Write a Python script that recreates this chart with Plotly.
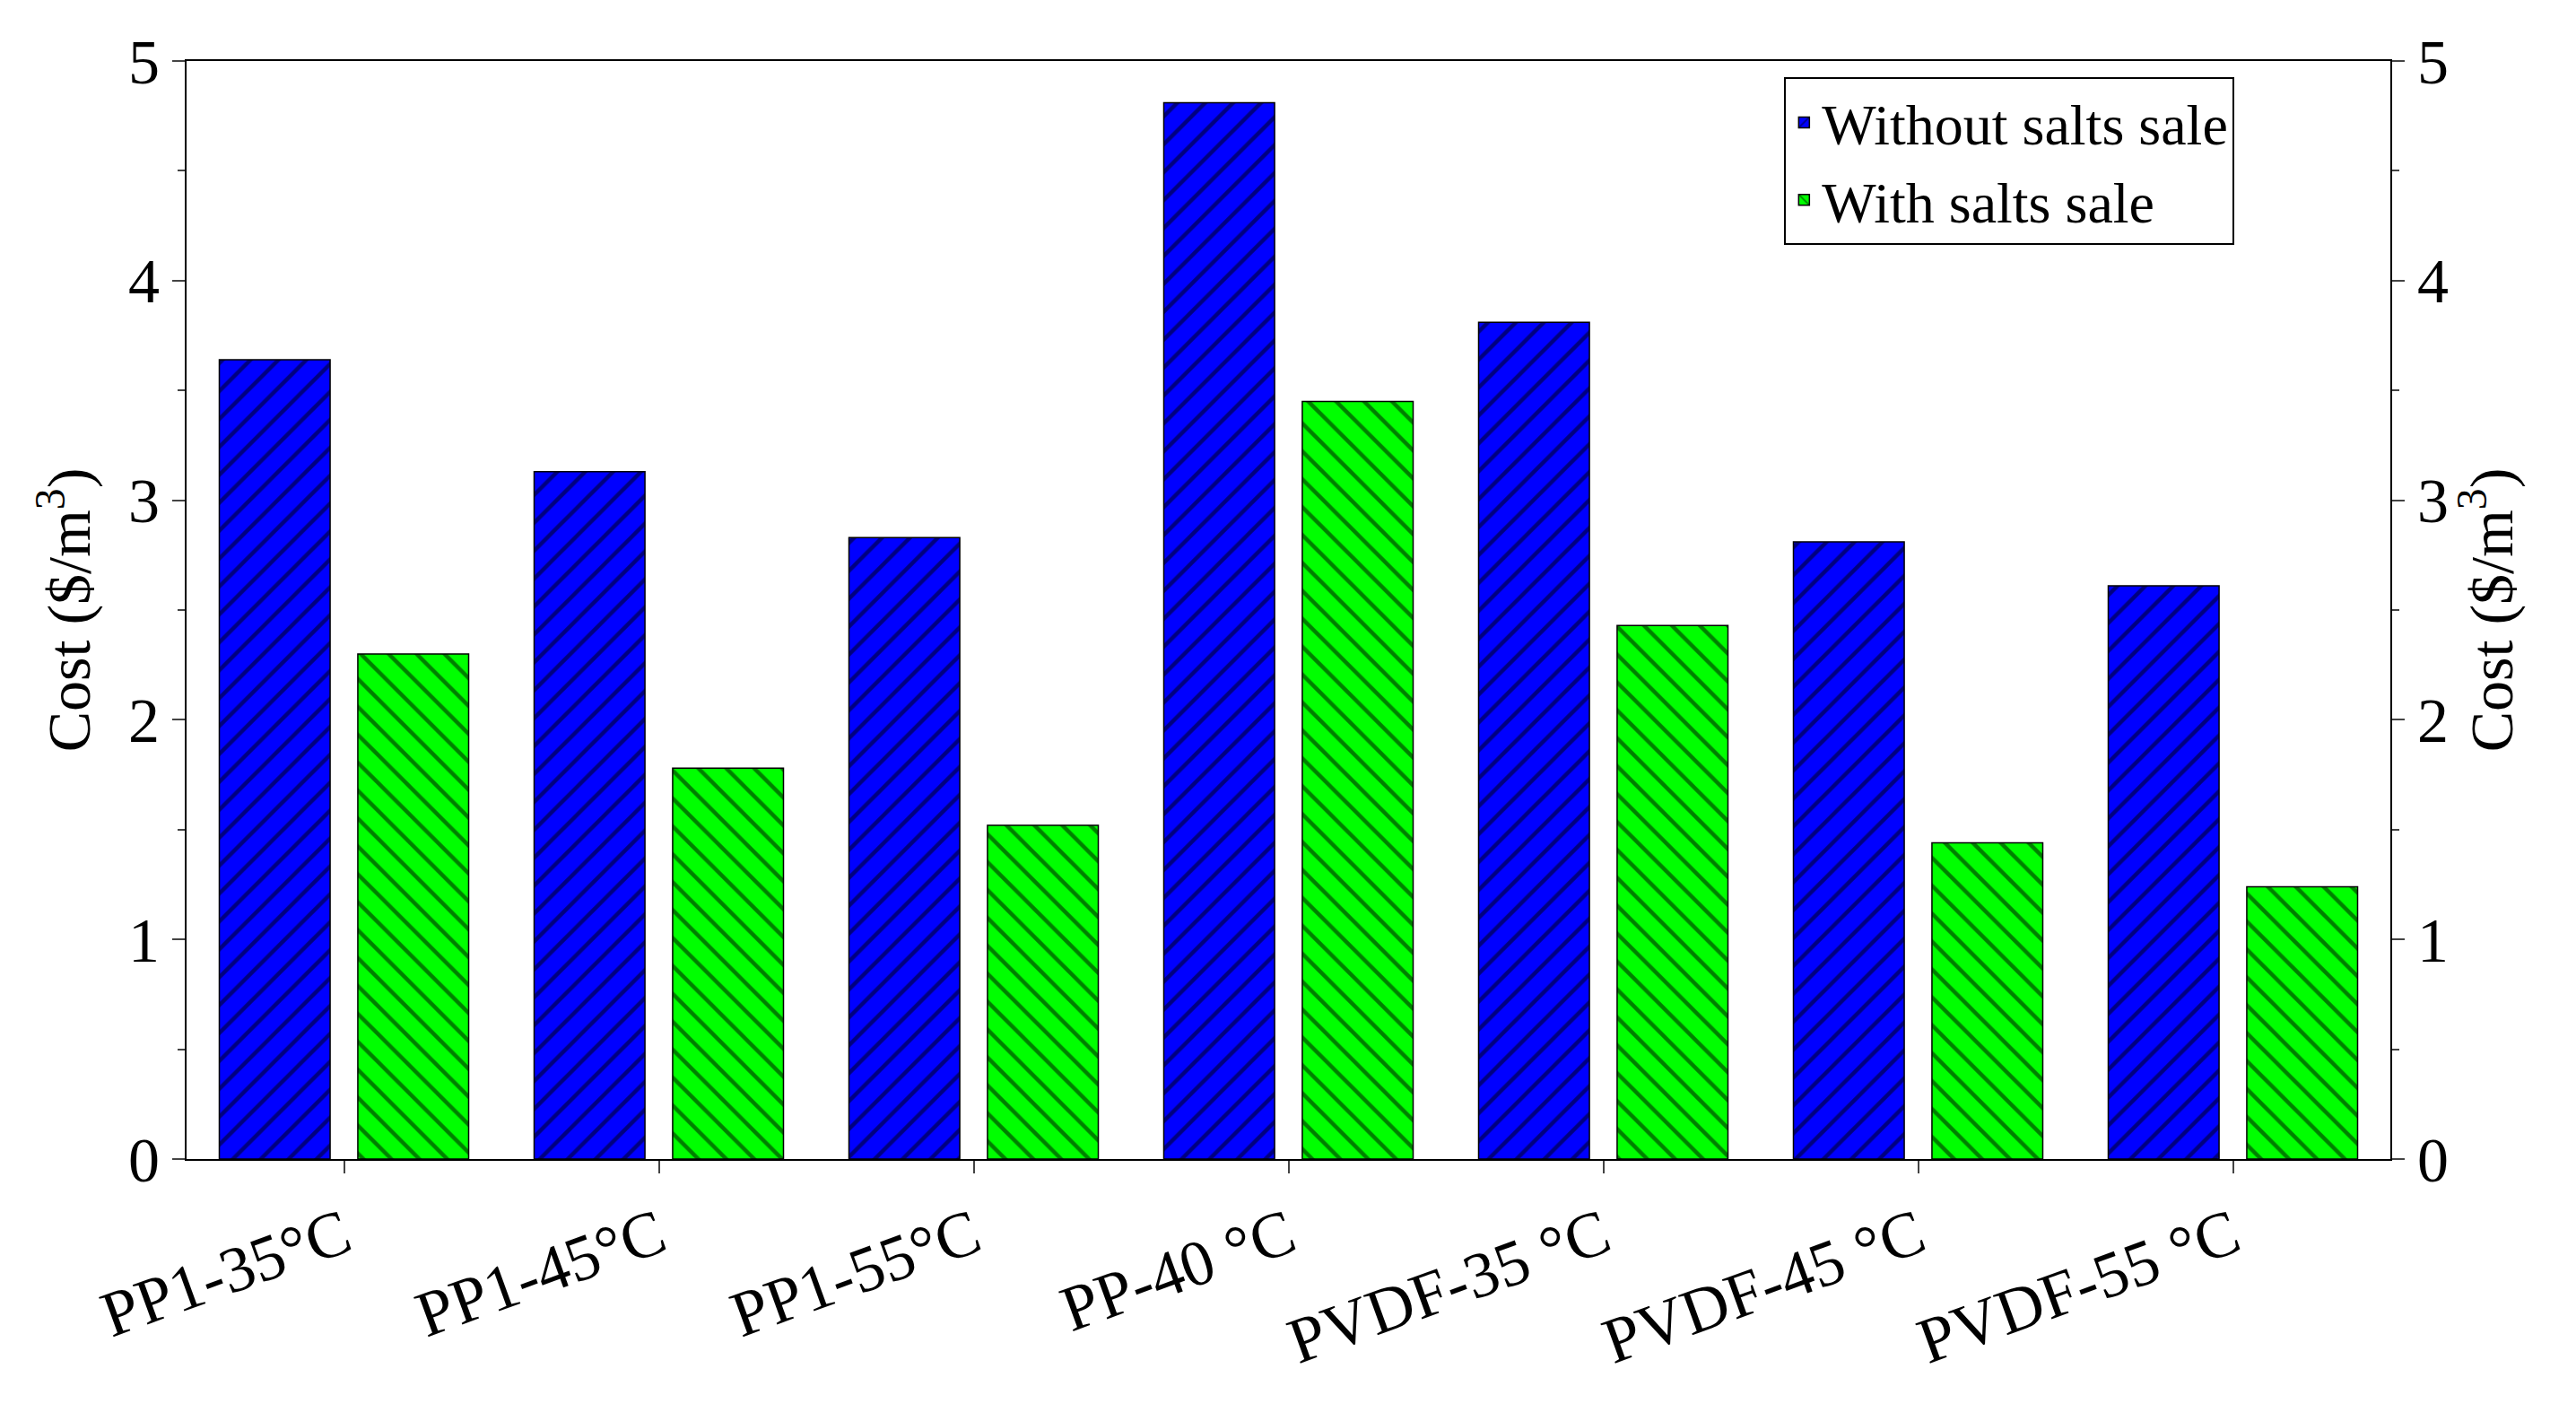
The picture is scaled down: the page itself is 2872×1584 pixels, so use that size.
import plotly.graph_objects as go

categories = ["PP1-35°C", "PP1-45°C", "PP1-55°C", "PP-40 °C", "PVDF-35 °C", "PVDF-45 °C", "PVDF-55 °C"]
without_sale = [3.64, 3.13, 2.83, 4.81, 3.81, 2.81, 2.61]
with_sale = [2.30, 1.78, 1.52, 3.45, 2.43, 1.44, 1.24]

font = "Liberation Serif"
fig = go.Figure()
fig.add_trace(go.Bar(x=categories, y=without_sale, name="Without salts sale",
                     marker=dict(color="#0000ff", line=dict(color="black", width=1.5),
                                 pattern=dict(shape="/", fgcolor="black", size=22, solidity=0.2))))
fig.add_trace(go.Bar(x=categories, y=with_sale, name="With salts sale",
                     marker=dict(color="#00ff00", line=dict(color="black", width=1.5),
                                 pattern=dict(shape="\\", fgcolor="black", size=22, solidity=0.2))))
fig.add_trace(go.Scatter(x=[categories[0]], y=[0], yaxis="y2", showlegend=False,
                         mode="markers", marker=dict(opacity=0), hoverinfo="skip"))

yax = dict(range=[0, 5], dtick=1, ticks="outside", ticklen=14, tickwidth=2,
           linecolor="black", linewidth=2, showgrid=False, zeroline=False,
           tickfont=dict(size=70, family=font, color="black"),
           minor=dict(dtick=0.5, ticks="outside", ticklen=8, tickwidth=2),
           title=dict(text="Cost ($/m<sup>3</sup>)", font=dict(size=68, family=font, color="black"), standoff=20))
fig.update_layout(
    width=2872, height=1584, paper_bgcolor="white", plot_bgcolor="white",
    margin=dict(l=200, r=215, t=60, b=300),
    barmode="group", bargap=0.12, bargroupgap=0.2,
    font=dict(family=font, color="black"),
    xaxis=dict(ticks="outside", ticklen=14, tickwidth=2, linecolor="black", linewidth=2,
               mirror=True, tickangle=-20, tickfont=dict(size=72, family=font, color="black")),
    yaxis=yax,
    yaxis2=dict(yax, overlaying="y", side="right"),
    legend=dict(x=0.725, y=0.985, xanchor="left", yanchor="top", bordercolor="black", borderwidth=2,
                font=dict(size=64, family=font, color="black"), bgcolor="white"),
)
fig.write_html("out.html")
